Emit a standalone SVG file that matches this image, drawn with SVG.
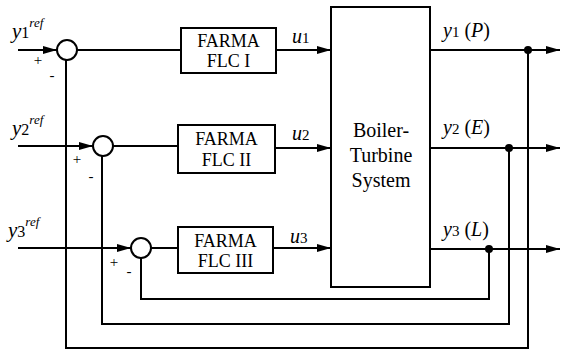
<svg xmlns="http://www.w3.org/2000/svg" width="561" height="351" viewBox="0 0 561 351" font-family="Liberation Serif, Times New Roman, serif">
<defs>
<marker id="arr" markerWidth="14" markerHeight="8" refX="14" refY="4" orient="auto" markerUnits="userSpaceOnUse">
<path d="M0,0 L14,4 L0,8 Z" fill="#000"/>
</marker>
<style>
.w{stroke:#000;stroke-width:2;fill:none}
.b{stroke:#000;stroke-width:2;fill:#fff}
.i{font-style:italic}
.n{font-style:normal}
</style>
</defs>
<rect width="561" height="351" fill="#fff"/>
<g id="connectors">
<path class="w" d="M18,50 H57" marker-end="url(#arr)"/>
<path class="w" d="M18,146 H93" marker-end="url(#arr)"/>
<path class="w" d="M18,248 H131" marker-end="url(#arr)"/>
<path class="w" d="M77,50 H181"/>
<path class="w" d="M113,146 H178"/>
<path class="w" d="M151,248 H178"/>
<path class="w" d="M276,50 H331" marker-end="url(#arr)"/>
<path class="w" d="M275,148 H331" marker-end="url(#arr)"/>
<path class="w" d="M273,248 H331" marker-end="url(#arr)"/>
<path class="w" d="M430,50 H560" marker-end="url(#arr)"/>
<path class="w" d="M430,148 H560" marker-end="url(#arr)"/>
<path class="w" d="M430,249 H560" marker-end="url(#arr)"/>
<path class="w" d="M528,50 V348 H66 V60"/>
<path class="w" d="M509,148 V324 H102 V156"/>
<path class="w" d="M489,249 V299 H141 V258"/>
<circle cx="528" cy="50" r="4" fill="#000"/>
<circle cx="509" cy="148" r="4" fill="#000"/>
<circle cx="489" cy="249" r="4" fill="#000"/>
</g>
<g id="sum1">
<circle class="b" cx="67" cy="50" r="10"/>
<text x="38" y="65" font-size="15" text-anchor="middle">+</text>
<text x="52" y="80" font-size="15" text-anchor="middle">-</text>
</g>
<g id="sum2">
<circle class="b" cx="103" cy="146" r="10"/>
<text x="77" y="164" font-size="15" text-anchor="middle">+</text>
<text x="91" y="181" font-size="15" text-anchor="middle">-</text>
</g>
<g id="sum3">
<circle class="b" cx="141" cy="248" r="10"/>
<text x="114" y="267" font-size="15" text-anchor="middle">+</text>
<text x="129" y="276" font-size="15" text-anchor="middle">-</text>
</g>
<g id="ref1">
<text class="i" x="12" y="38" font-size="21">y<tspan class="n" font-size="16">1</tspan><tspan font-size="13" dy="-11">ref</tspan></text>
</g>
<g id="ref2">
<text class="i" x="12" y="135" font-size="21">y<tspan class="n" font-size="16">2</tspan><tspan font-size="13" dy="-11">ref</tspan></text>
</g>
<g id="ref3">
<text class="i" x="8" y="237" font-size="21">y<tspan class="n" font-size="16">3</tspan><tspan font-size="13" dy="-11">ref</tspan></text>
</g>
<g id="flc1">
<rect class="b" x="181" y="28" width="95" height="45"/>
<text x="228.5" y="47" font-size="18" text-anchor="middle">FARMA</text>
<text x="228.5" y="67" font-size="18" text-anchor="middle">FLC I</text>
</g>
<g id="flc2">
<rect class="b" x="178" y="125" width="97" height="48"/>
<text x="226.5" y="145" font-size="18" text-anchor="middle">FARMA</text>
<text x="226.5" y="166" font-size="18" text-anchor="middle">FLC II</text>
</g>
<g id="flc3">
<rect class="b" x="178" y="227" width="95" height="46"/>
<text x="225.5" y="247" font-size="18" text-anchor="middle">FARMA</text>
<text x="225.5" y="267" font-size="18" text-anchor="middle">FLC III</text>
</g>
<g id="ulabels">
<text class="i" x="292" y="43" font-size="20">u<tspan class="n" font-size="15">1</tspan></text>
<text class="i" x="292" y="140" font-size="20">u<tspan class="n" font-size="15">2</tspan></text>
<text class="i" x="290" y="243" font-size="20">u<tspan class="n" font-size="15">3</tspan></text>
</g>
<g id="plant">
<rect class="b" x="331" y="7" width="99" height="280"/>
<text x="381" y="137" font-size="20" text-anchor="middle">Boiler-</text>
<text x="381" y="162" font-size="20" text-anchor="middle">Turbine</text>
<text x="381" y="187" font-size="20" text-anchor="middle">System</text>
</g>
<g id="ylabels">
<text class="i" x="443" y="37" font-size="20">y<tspan class="n" font-size="15">1</tspan><tspan class="n"> (</tspan>P<tspan class="n">)</tspan></text>
<text class="i" x="443" y="134" font-size="20">y<tspan class="n" font-size="15">2</tspan><tspan class="n"> (</tspan>E<tspan class="n">)</tspan></text>
<text class="i" x="443" y="236" font-size="20">y<tspan class="n" font-size="15">3</tspan><tspan class="n"> (</tspan>L<tspan class="n">)</tspan></text>
</g>
</svg>
